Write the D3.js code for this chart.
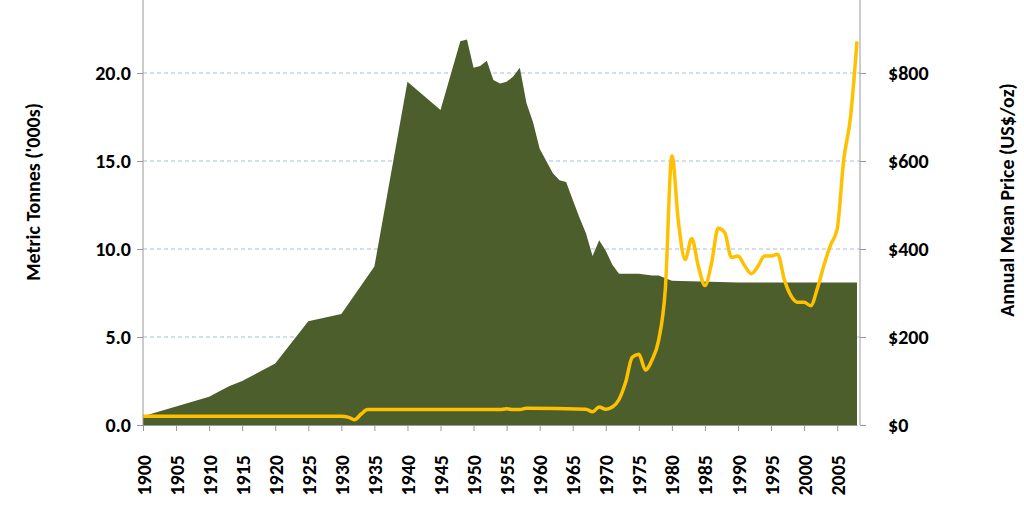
<!DOCTYPE html><html><head><meta charset="utf-8"><script src="https://cdn.jsdelivr.net/npm/d3@7"></script>
<style>body{margin:0;background:#fff}text{font-family:Calibri,Carlito,"Open Sans",sans-serif;font-weight:bold}</style></head><body><svg width="1024" height="512"></svg><script>
const prodYears=[1900,1910,1913,1915,1920,1925,1930,1935,1940,1945,1948,1949,1950,1951,1952,1953,1954,1955,1956,1957,1958,1959,1960,1961,1962,1963,1964,1965,1966,1967,1968,1969,1970,1971,1972,1975,1977,1978,1980,1990,2008];
const prodValues=[0.5,1.6,2.2,2.5,3.5,5.9,6.3,9.0,19.5,17.9,21.8,21.9,20.3,20.4,20.7,19.6,19.4,19.5,19.8,20.3,18.3,17.2,15.7,15.0,14.3,13.9,13.8,12.8,11.8,10.9,9.6,10.5,9.9,9.1,8.6,8.6,8.5,8.5,8.2,8.1,8.1];
const priceYears=[1900,1930,1931,1932,1933,1934,1935,1954,1955,1956,1957,1958,1967,1968,1969,1970,1971,1972,1973,1974,1975,1976,1977,1978,1979,1980,1981,1982,1983,1984,1985,1986,1987,1988,1989,1990,1991,1992,1993,1994,1995,1996,1997,1998,1999,2000,2001,2002,2003,2004,2005,2006,2007,2008];
const priceValues=[20,20,18,12,25,35,35,35,37,35,35,38,36,30,41,36,41,58,97,154,161,125,148,193,307,612,460,376,424,361,317,368,447,437,381,384,362,344,360,384,384,388,331,294,279,279,271,310,363,409,445,604,697,872];
const leftTicks=[0,5,10,15,20];
const rightTicks=[0,200,400,600,800];
const xTicks=d3.range(1900,2006,5);
const svg=d3.select("svg");
const x=d3.scaleLinear().domain([1900,2008]).range([143,857]);
const y=d3.scaleLinear().domain([0,20]).range([425,73]);
const y2=d3.scaleLinear().domain([0,800]).range([425,73]);
svg.selectAll(".g").data(leftTicks.slice(1)).join("line").attr("x1",143).attr("x2",860).attr("y1",d=>y(d)).attr("y2",d=>y(d)).attr("stroke","#c5d3ea").attr("stroke-width",1.5).attr("stroke-dasharray","4,3");
svg.append("path").datum(prodYears.map((d,i)=>[d,prodValues[i]])).attr("fill","#4b5e2b")
 .attr("d",d3.area().x(d=>x(d[0])).y0(y(0)).y1(d=>y(d[1])));
svg.append("path").datum(priceYears.map((d,i)=>[d,priceValues[i]])).attr("fill","none").attr("stroke","#ffc000").attr("stroke-width",3.5).attr("stroke-linejoin","round")
 .attr("d",d3.line().curve(d3.curveMonotoneX).x(d=>x(d[0])).y(d=>y2(d[1])));
const ax=svg.append("g").attr("transform","translate(0,425)").call(d3.axisBottom(x).tickValues(xTicks).tickFormat(d3.format("d")).tickSize(6).tickSizeOuter(0));
ax.selectAll("text").attr("transform","rotate(-90)").attr("text-anchor","end").attr("dx","-30").attr("dy","0.35em").attr("x",0).attr("y",0).style("font-size","20px").attr("fill","#000");
ax.select(".domain").attr("stroke","#999");ax.selectAll(".tick line").attr("stroke","#999");
const al=svg.append("g").attr("transform","translate(143,0)").call(d3.axisLeft(y).tickValues(leftTicks).tickFormat(d3.format(".1f")).tickSize(6).tickSizeOuter(0));
al.selectAll("text").style("font-size","20px").attr("fill","#000").attr("x",-12);
al.select(".domain").attr("d","M0,0V425").attr("stroke","#999");al.selectAll(".tick line").attr("stroke","#999");
const ar=svg.append("g").attr("transform","translate(860,0)").call(d3.axisRight(y2).tickValues(rightTicks).tickFormat(d=>"$"+d).tickSize(6).tickSizeOuter(0));
ar.selectAll("text").style("font-size","20px").attr("fill","#000").attr("x",28);
ar.select(".domain").attr("d","M0,0V425").attr("stroke","#999");ar.selectAll(".tick line").attr("stroke","#999");
svg.append("text").attr("transform","translate(40,192) rotate(-90)").attr("text-anchor","middle").style("font-size","20px").text("Metric Tonnes ('000s)");
svg.append("text").attr("transform","translate(1014,200) rotate(-90)").attr("text-anchor","middle").style("font-size","20px").text("Annual Mean Price (US$/oz)");
</script></body></html>
